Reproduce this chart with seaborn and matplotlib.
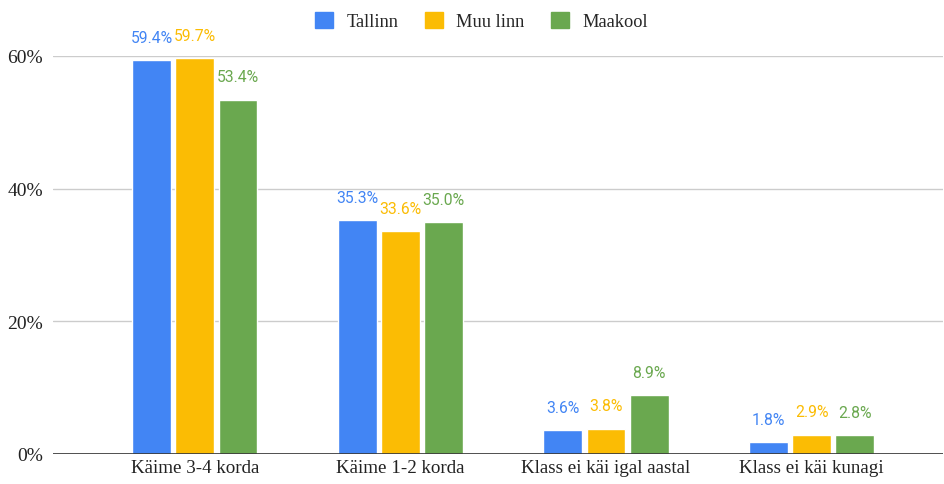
import matplotlib
matplotlib.use("Agg")
import matplotlib.pyplot as plt
import seaborn as sns
import pandas as pd
from matplotlib.patches import Patch

categories = ["Käime 3-4 korda", "Käime 1-2 korda", "Klass ei käi igal aastal", "Klass ei käi kunagi"]
series_names = ["Tallinn", "Muu linn", "Maakool"]
tallinn = [59.4, 35.3, 3.6, 1.8]
muu_linn = [59.7, 33.6, 3.8, 2.9]
maakool = [53.4, 35.0, 8.9, 2.8]
colors = ["#4285F4", "#FBBC04", "#6AA84F"]
y_ticks = [0, 20, 40, 60]

rows = []
for name, vals in zip(series_names, [tallinn, muu_linn, maakool]):
    for c, v in zip(categories, vals):
        rows.append({"cat": c, "series": name, "val": v})
df = pd.DataFrame(rows)

sns.set_theme(style="white")
plt.rcParams["font.family"] = ["Liberation Serif", "DejaVu Serif"]

fig = plt.figure(figsize=(9.45, 4.85), dpi=100)
ax = fig.add_axes([0.056, 0.062, 0.942, 0.8205])

sns.barplot(data=df, x="cat", y="val", hue="series", order=categories,
            hue_order=series_names, palette=colors, width=0.63, gap=0.1,
            saturation=1, legend=False, ax=ax, zorder=3)

ax.set_ylim(0, 60)
ax.set_xlim(-0.69, 3.64)
ax.set_yticks(y_ticks)
ax.set_yticklabels([f"{t}%" for t in y_ticks], fontsize=14, color="#222222")
ax.tick_params(axis="x", labelsize=13.7, colors="#222222", length=0, pad=4)
ax.tick_params(axis="y", length=0, pad=7)
ax.set_xlabel("")
ax.set_ylabel("")
for t in y_ticks:
    ax.axhline(t, color="#cccccc", lw=1, zorder=1)
ax.axhline(0, color="#333333", lw=1.2, zorder=4)
for s in ax.spines.values():
    s.set_visible(False)

for cont, col in zip(ax.containers, colors):
    for bar in cont:
        h = bar.get_height()
        ax.annotate(f"{h:.1f}%", (bar.get_x() + bar.get_width() / 2, h),
                    xytext=(0, 11), textcoords="offset points", ha="center",
                    va="bottom", fontsize=11.3, color=col, family="Roboto",
                    annotation_clip=False)

handles = [Patch(facecolor=c, edgecolor=c) for c in colors]
fig.legend(handles, series_names, loc="upper center", bbox_to_anchor=(0.5095, 1.008),
           ncol=3, frameon=False, fontsize=13.2, handlelength=1.0, handleheight=1.0,
           columnspacing=1.45, handletextpad=0.72)

fig.savefig("out.png", dpi=100)
